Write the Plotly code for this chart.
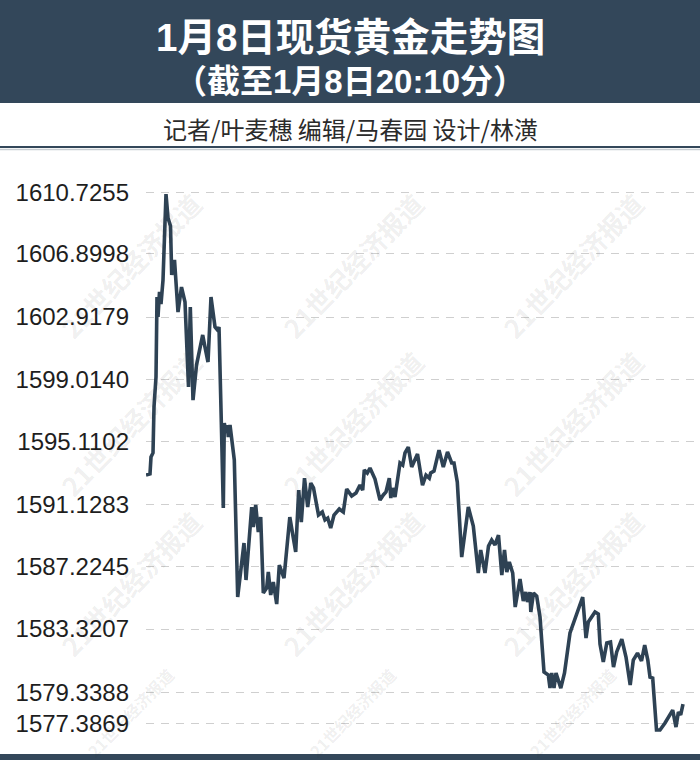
import plotly.graph_objects as go

# ---- data ----
title_line1 = "1月8日现货黄金走势图"
title_line2 = "（截至1月8日20:10分）"
credits = "记者/叶麦穗 编辑/马春园 设计/林潢"
watermark = "21世纪经济报道"

y_ticks = [1610.7255, 1606.8998, 1602.9179, 1599.0140, 1595.1102,
           1591.1283, 1587.2245, 1583.3207, 1579.3388, 1577.3869]

# relative time position (arbitrary units along the hidden time axis)
t = [0, 4, 5, 7, 8, 10, 11, 12, 13.5, 15, 17, 20, 22, 24.5, 25.7, 28.5, 32, 35.5, 39, 42.5,
     44.3, 47, 50.5, 56.7, 59, 62, 65, 69, 71.5, 73, 75.5, 77.3, 78.3, 80, 81.3, 82.3, 84, 88.3,
     91.7, 98, 100, 105.7, 107.3, 109.7, 112.3, 114.7, 117.3, 120.7, 122.3, 124.7, 127.3, 130.7,
     133.3, 138, 143.8, 147, 149.7, 152.7, 155.3, 158.5, 161.7, 164.8, 167.5, 172.5, 176.3, 179,
     181.7, 184.7, 188, 193.3, 197.3, 200.7, 205.7, 210, 214, 216.7, 218.3, 221.3, 224, 229, 234,
     237.3, 240, 243.3, 244.8, 246.7, 249, 254, 256.7, 259, 262.3, 265.7, 271.5, 276.5, 280,
     283.3, 284.7, 288, 293, 297.3, 301.5, 305.7, 308, 311.3, 315.7, 322.3, 327.3, 332.3, 334.7,
     339, 342.5, 345.7, 349, 352.5, 355.8, 358.5, 360.8, 363.3, 366.7, 369.2, 374, 377.3, 379.8,
     381.5, 384, 384.8, 387.5, 390.7, 394, 398, 402.3, 404, 405.7, 408, 410, 414.8, 418.5, 424,
     436.7, 440, 442.3, 449, 452.3, 454, 457.3, 460.8, 464.5, 467.5, 470.7, 475.8, 480, 484.2,
     487.3, 491.5, 495.5, 498.7, 501.8, 504, 506.7, 510.5, 514, 519, 523.5, 526.7, 530, 532.4,
     534.7, 537]

price = [1592.99, 1593.06, 1594.12, 1594.38, 1597.26, 1599.15, 1604.17, 1602.92, 1604.49, 1603.73,
         1605.24, 1610.64, 1609.14, 1608.63, 1605.56, 1606.50, 1603.23, 1604.80, 1603.86, 1598.52,
         1603.55, 1597.70, 1599.90, 1601.79, 1601.03, 1600.09, 1604.17, 1602.29, 1602.10, 1602.29,
         1595.82, 1590.92, 1596.26, 1595.63, 1596.13, 1595.38, 1596.13, 1593.94, 1585.33, 1588.72,
         1586.40, 1590.98, 1589.73, 1591.11, 1589.41, 1590.35, 1585.58, 1585.90, 1586.90, 1585.46,
         1586.27, 1584.89, 1587.34, 1586.52, 1590.35, 1589.04, 1588.16, 1592.05, 1590.04, 1592.80,
         1590.98, 1592.49, 1592.18, 1590.48, 1590.67, 1590.17, 1590.29, 1589.66, 1590.48, 1590.86,
         1590.67, 1592.11, 1591.67, 1591.86, 1592.36, 1592.05, 1593.31, 1593.12, 1593.43, 1592.74,
         1591.42, 1591.74, 1591.93, 1592.80, 1591.55, 1592.18, 1591.61, 1593.75, 1593.62, 1594.38,
         1594.75, 1593.50, 1594.31, 1592.36, 1592.99, 1592.80, 1593.12, 1593.24, 1594.56, 1593.50,
         1594.44, 1593.75, 1593.75, 1592.55, 1587.84, 1590.98, 1589.79, 1586.84, 1588.28, 1586.84,
         1588.53, 1588.91, 1588.60, 1589.22, 1586.71, 1588.28, 1586.90, 1587.53, 1586.84, 1584.70,
         1586.46, 1585.08, 1585.64, 1585.02, 1585.64, 1584.39, 1585.58, 1585.39, 1584.07, 1580.62,
         1580.43, 1579.61, 1580.56, 1579.61, 1580.56, 1579.61, 1580.56, 1583.07, 1585.33, 1582.75,
         1583.76, 1584.39, 1584.26, 1582.38, 1581.25, 1582.44, 1582.50, 1580.93, 1581.88, 1582.69,
         1581.56, 1579.80, 1581.37, 1581.81, 1581.31, 1582.31, 1581.37, 1580.30, 1580.24, 1576.98,
         1576.98, 1577.42, 1577.85, 1578.23, 1577.16, 1578.11, 1577.92, 1578.61]

# ---- layout geometry ----
W, H = 700, 768
ML, MR, MT, MB = 146, 0, 160, 14
PW, PH = W - ML - MR, H - MT - MB

def px_x(p):
    return (p - ML) / PW

def px_y(p):
    return (H - MB - p) / PH

DARK = "#33475a"
LINE = "#2e4254"
CJK = "Noto Sans CJK SC"
TITLE_FONT = "Liberation Sans, Noto Sans CJK SC"

fig = go.Figure()
fig.add_trace(go.Scatter(
    x=t, y=price, mode="lines",
    line=dict(color=LINE, width=3.6),
    hoverinfo="skip", showlegend=False,
))

shapes = [
    # header band
    dict(type="rect", xref="paper", yref="paper", x0=px_x(0), x1=px_x(W), y0=px_y(103), y1=px_y(0),
         fillcolor=DARK, line=dict(width=0), layer="above"),
    # separator under credits
    dict(type="line", xref="paper", yref="paper", x0=px_x(0), x1=px_x(W), y0=px_y(147), y1=px_y(147),
         line=dict(color=DARK, width=2.2), layer="above"),
    dict(type="line", xref="paper", yref="paper", x0=px_x(0), x1=px_x(W), y0=px_y(149.5), y1=px_y(149.5),
         line=dict(color="#c8cdd2", width=1.5), layer="above"),
    # bottom bar
    dict(type="rect", xref="paper", yref="paper", x0=px_x(0), x1=px_x(W), y0=px_y(760), y1=px_y(754),
         fillcolor=DARK, line=dict(width=0), layer="above"),
]

annotations = []
# watermarks (faint, tiled)
for cy, size in [(265, 26), (423, 26), (583, 26), (713, 16)]:
    for cx in [130, 352, 572]:
        annotations.append(dict(
            text=watermark, xref="paper", yref="paper", x=px_x(cx), y=px_y(cy),
            xanchor="center", yanchor="middle", showarrow=False, textangle=-46,
            font=dict(family=CJK, size=size, color="rgba(40,40,40,0.085)", weight="bold"),
        ))

annotations += [
    dict(text=title_line1, xref="paper", yref="paper", x=px_x(350), y=px_y(38),
         xanchor="center", yanchor="middle", showarrow=False,
         font=dict(family=TITLE_FONT, size=38.5, color="white", weight="bold")),
    dict(text=title_line2, xref="paper", yref="paper", x=px_x(350), y=px_y(81),
         xanchor="center", yanchor="middle", showarrow=False,
         font=dict(family=TITLE_FONT, size=33, color="white", weight="bold")),
    dict(text=credits, xref="paper", yref="paper", x=px_x(350), y=px_y(128),
         xanchor="center", yanchor="middle", showarrow=False,
         font=dict(family=CJK, size=24, color="#2b2b2b")),
]

fig.update_layout(
    width=W, height=H,
    margin=dict(l=ML, r=MR, t=MT, b=MB, pad=0),
    paper_bgcolor="white", plot_bgcolor="white",
    shapes=shapes, annotations=annotations,
    xaxis=dict(range=[0, PW], visible=False, fixedrange=True),
    yaxis=dict(
        range=[1575.47, 1612.78],
        tickvals=y_ticks, tickformat=".4f",
        showgrid=True, gridcolor="#cfcfcf", gridwidth=1, griddash="8px,7px",
        zeroline=False, showline=False, ticks="",
        ticklabelstandoff=16,
        tickfont=dict(family="Liberation Sans, Arial", size=24, color="#1e1e1e"),
        fixedrange=True,
    ),
)

fig.write_html(
    "out.html",
    config={"displayModeBar": False},
    post_script="document.body.style.margin='0px';document.body.style.padding='0px';",
)
